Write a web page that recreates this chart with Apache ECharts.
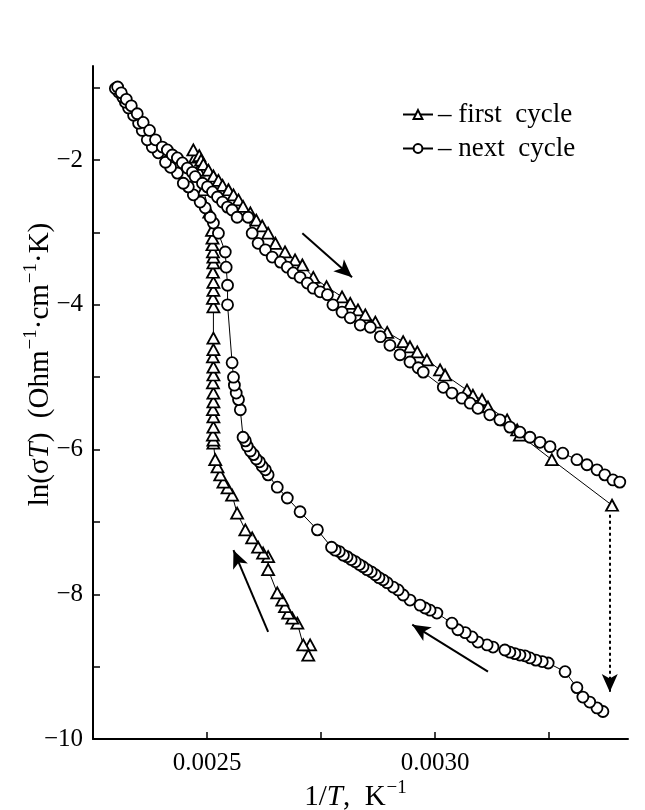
<!DOCTYPE html>
<html>
<head>
<meta charset="utf-8">
<script src="https://cdn.jsdelivr.net/npm/echarts@6/dist/echarts.min.js"></script>
<style>
    html, body { margin: 0; padding: 0; background: #fff; }
    #main { width: 645px; height: 810px; }
</style>
</head>
<body>
<div id="main"></div>
<script>
// first cycle (triangles): heating up the left branch, then cooling down the upper one
const firstX = [
    0.002722, 0.002726, 0.002711, 0.002698, 0.002687, 0.002678, 0.002671, 0.002665, 0.002654, 0.002634,
    0.002634, 0.002623, 0.002612, 0.002599, 0.002584, 0.002566, 0.002555, 0.002545, 0.002536, 0.002529,
    0.002523, 0.002518,
    0.002514, 0.002514, 0.002513, 0.002514, 0.002514, 0.002513, 0.002514, 0.002514, 0.002513, 0.002514,
    0.002514, 0.002513, 0.002514, 0.002514, 0.002514, 0.002513, 0.002514, 0.002514, 0.002513, 0.002514,
    0.002514, 0.002513, 0.002512, 0.002512, 0.002511, 0.002505, 0.002492, 0.002481, 0.002474, 0.002470,
    0.002483, 0.002487, 0.002492, 0.002503, 0.002514, 0.002525, 0.002534, 0.002547, 0.002558, 0.002569,
    0.002579, 0.002595, 0.002608, 0.002621, 0.002634, 0.002650, 0.002671, 0.002693, 0.002709, 0.002733,
    0.002762, 0.002796, 0.002814, 0.002831, 0.002847, 0.002869, 0.002895, 0.002930, 0.002945, 0.002961,
    0.002982, 0.003011, 0.003022, 0.003070, 0.003083, 0.003103, 0.003116, 0.003158, 0.003180, 0.003186,
    0.003256, 0.003388
]
const firstY = [
    -8.84, -8.70, -8.70, -8.40, -8.33, -8.26, -8.17, -8.08, -7.98, -7.66,
    -7.48, -7.43, -7.35, -7.22, -7.11, -6.88, -6.63, -6.53, -6.45, -6.35,
    -6.24, -6.14,
    -5.91, -5.87, -5.80, -5.69, -5.55, -5.45, -5.34, -5.22, -5.08, -4.97,
    -4.86, -4.72, -4.62, -4.46, -4.03, -3.91, -3.80, -3.69, -3.55, -3.42,
    -3.34, -3.27, -3.17, -3.08, -2.97, -2.72, -2.41, -2.14, -1.96, -1.86,
    -1.94, -2.00, -2.06, -2.14, -2.22, -2.28, -2.35, -2.41, -2.48, -2.55,
    -2.64, -2.73, -2.83, -2.91, -3.01, -3.15, -3.27, -3.38, -3.45, -3.62,
    -3.75, -3.89, -3.98, -4.07, -4.14, -4.24, -4.38, -4.51, -4.58, -4.65,
    -4.76, -4.90, -4.97, -5.18, -5.25, -5.31, -5.41, -5.59, -5.73, -5.80,
    -6.14, -6.77
]

// next cycle (circles): heating along the lower branch from the bottom right, then cooling
const nextX = [
    0.003368, 0.003355, 0.003339, 0.003324, 0.003311, 0.003285, 0.003248, 0.003235, 0.003221, 0.003208,
    0.003197, 0.003186, 0.003175, 0.003164, 0.003153, 0.003127, 0.003114, 0.003094, 0.003081, 0.003066,
    0.003050, 0.003037, 0.003004, 0.002989, 0.002978, 0.002967, 0.002945, 0.002930, 0.002919, 0.002908,
    0.002895, 0.002886, 0.002877, 0.002869, 0.002860, 0.002851, 0.002842, 0.002834, 0.002825, 0.002816,
    0.002807, 0.002799, 0.002790, 0.002781, 0.002773, 0.002742, 0.002704, 0.002676, 0.002654, 0.002634,
    0.002628, 0.002621, 0.002615, 0.002608, 0.002602, 0.002595, 0.002588, 0.002584, 0.002579, 0.002573,
    0.002569, 0.002564, 0.002560, 0.002558, 0.002555, 0.002545, 0.002545, 0.002542, 0.002540, 0.002525,
    0.002514, 0.002507, 0.002496, 0.002485, 0.002470, 0.002459, 0.002448, 0.002435, 0.002420, 0.002409,
    0.002393, 0.002380, 0.002369, 0.002358, 0.002350, 0.002339, 0.002328, 0.002321, 0.002315, 0.002306,
    0.002299,
    0.002304, 0.002312, 0.002323, 0.002334, 0.002347, 0.002360, 0.002374, 0.002387, 0.002402, 0.002413,
    0.002424, 0.002435, 0.002446, 0.002457, 0.002468, 0.002474, 0.002490, 0.002501, 0.002512, 0.002523,
    0.002534, 0.002545, 0.002555, 0.002566, 0.002590, 0.002599, 0.002612, 0.002628, 0.002643, 0.002661,
    0.002676, 0.002689, 0.002704, 0.002720, 0.002733, 0.002748, 0.002764, 0.002776, 0.002796, 0.002814,
    0.002836, 0.002858, 0.002880, 0.002901, 0.002923, 0.002945, 0.002963, 0.002974, 0.003018, 0.003037,
    0.003059, 0.003077, 0.003094, 0.003120, 0.003142, 0.003164, 0.003186, 0.003208, 0.003230, 0.003252,
    0.003280, 0.003311, 0.003333, 0.003355, 0.003372, 0.003390, 0.003405
]
const nextY = [
    -9.62, -9.57, -9.49, -9.42, -9.29, -9.07, -8.95, -8.93, -8.91, -8.88,
    -8.85, -8.84, -8.82, -8.80, -8.77, -8.73, -8.70, -8.66, -8.59, -8.53,
    -8.49, -8.40, -8.26, -8.22, -8.19, -8.15, -8.08, -8.01, -7.94, -7.90,
    -7.84, -7.80, -7.77, -7.73, -7.69, -7.66, -7.62, -7.59, -7.55, -7.52,
    -7.48, -7.46, -7.41, -7.39, -7.35, -7.11, -6.86, -6.67, -6.52, -6.35,
    -6.28, -6.23, -6.17, -6.13, -6.07, -6.02, -5.95, -5.88, -5.83, -5.45,
    -5.31, -5.22, -5.11, -5.00, -4.80, -4.00, -3.73, -3.48, -3.27, -3.01,
    -2.87, -2.79, -2.66, -2.58, -2.48, -2.37, -2.32, -2.18, -2.10, -2.03,
    -1.90, -1.82, -1.72, -1.59, -1.49, -1.38, -1.28, -1.20, -1.13, -1.06,
    -1.01,
    -0.99, -1.07, -1.16, -1.25, -1.36, -1.48, -1.59, -1.72, -1.82, -1.86,
    -1.93, -1.97, -2.04, -2.11, -2.17, -2.23, -2.32, -2.37, -2.44, -2.51,
    -2.58, -2.65, -2.69, -2.79, -2.79, -3.01, -3.15, -3.24, -3.34, -3.41,
    -3.48, -3.56, -3.62, -3.70, -3.77, -3.82, -3.86, -4.00, -4.10, -4.18,
    -4.28, -4.31, -4.44, -4.56, -4.69, -4.79, -4.87, -4.93, -5.14, -5.22,
    -5.29, -5.36, -5.43, -5.52, -5.59, -5.69, -5.76, -5.83, -5.90, -5.96,
    -6.05, -6.14, -6.21, -6.28, -6.35, -6.42, -6.45
]

const xLabels = [0.0025, 0.003]
const yLabels = [-2, -4, -6, -8, -10]

const font = 'Liberation Serif'
const zip = (xs, ys) => xs.map((x, i) => [x, ys[i]])

// direction arrows, in data coordinates
const arrows = [
    [[0.002709, -3.01], [0.002818, -3.62]],
    [[0.002634, -8.52], [0.002558, -7.39]],
    [[0.003116, -9.07], [0.002950, -8.42]],
]
const dropArrow = [[0.003383, -6.90], [0.003383, -9.35]]

const chart = echarts.init(document.getElementById('main'))

const sym = {
    color: '#fff',
    borderColor: '#000',
    borderWidth: 1.8,
}
const titleRich = {
    n: { fontFamily: font, fontSize: 29, color: '#000' },
    i: { fontFamily: font, fontSize: 29, fontStyle: 'italic', color: '#000' },
    s: { fontFamily: font, fontSize: 19, color: '#000', padding: [0, 0, 18, 1] },
}

const option = {
    animation: false,
    backgroundColor: '#fff',
    textStyle: { fontFamily: font, color: '#000' },
    grid: { left: 93, right: 17, top: 66, bottom: 71, outerBoundsMode: 'none', containLabel: false },
    legend: {
        data: ['first cycle', 'next cycle'],
        orient: 'vertical',
        left: 397,
        top: 96,
        itemWidth: 30,
        itemHeight: 11,
        itemGap: 7,
        formatter: (name) => '\u2013 ' + name.replace(' ', '  '),
        textStyle: { fontFamily: font, fontSize: 27, color: '#000' },
    },
    xAxis: {
        type: 'value',
        min: 0.00225,
        max: 0.003423,
        interval: 0.00025,
        name: '{n|1/}{i|T}{n|,  K}{s|\u22121}',
        nameLocation: 'middle',
        nameGap: 40,
        nameMoveOverlap: false,
        nameTextStyle: { rich: titleRich, padding: [0, 10, 0, 0] },
        splitLine: { show: false },
        axisLine: { lineStyle: { color: '#000', width: 2 } },
        axisTick: { inside: true, length: 7, lineStyle: { color: '#000', width: 1.5 } },
        axisLabel: {
            margin: 12,
            fontFamily: font,
            fontSize: 25,
            color: '#000',
            showMaxLabel: false,
            formatter: (v) => {
                const hit = xLabels.find((t) => Math.abs(t - v) < 1e-7)
                return hit === undefined ? '' : hit.toFixed(4)
            },
        },
    },
    yAxis: {
        type: 'value',
        min: -10,
        max: -0.7,
        interval: 1,
        name: '{n|ln(\u03c3}{i|T}{n|)  (Ohm}{s|\u22121}{n|\u00b7cm}{s|\u22121}{n|\u00b7K)}',
        nameLocation: 'middle',
        nameGap: 34,
        nameMoveOverlap: false,
        nameTextStyle: { rich: titleRich, padding: [0, 0, 0, 76] },
        splitLine: { show: false },
        axisLine: { lineStyle: { color: '#000', width: 2 } },
        axisTick: { inside: true, length: 7, lineStyle: { color: '#000', width: 1.5 } },
        axisLabel: {
            margin: 10,
            fontFamily: font,
            fontSize: 25,
            color: '#000',
            showMaxLabel: false,
            formatter: (v) => (yLabels.includes(Math.round(v * 100) / 100) ? '\u2212' + Math.abs(v) : ''),
        },
    },
    series: [
        {
            name: 'first cycle',
            type: 'line',
            data: zip(firstX, firstY),
            symbol: 'triangle',
            symbolSize: [12, 11],
            itemStyle: sym,
            lineStyle: { color: '#000', width: 1 },
            z: 2,
        },
        {
            name: 'next cycle',
            type: 'line',
            data: zip(nextX, nextY),
            symbol: 'circle',
            symbolSize: 11,
            itemStyle: sym,
            lineStyle: { color: '#000', width: 1 },
            z: 3,
            markLine: {
                silent: true,
                symbol: ['none', 'arrow'],
                symbolSize: [12, 18],
                label: { show: false },
                lineStyle: { color: '#000', width: 2, type: 'solid' },
                data: arrows
                    .map((a) => [{ coord: a[0] }, { coord: a[1] }])
                    .concat([[
                        { coord: dropArrow[0], lineStyle: { type: [3, 3], width: 2, color: '#000' } },
                        { coord: dropArrow[1] },
                    ]]),
            },
        },
    ],
}

chart.setOption(option)
</script>
</body>
</html>
